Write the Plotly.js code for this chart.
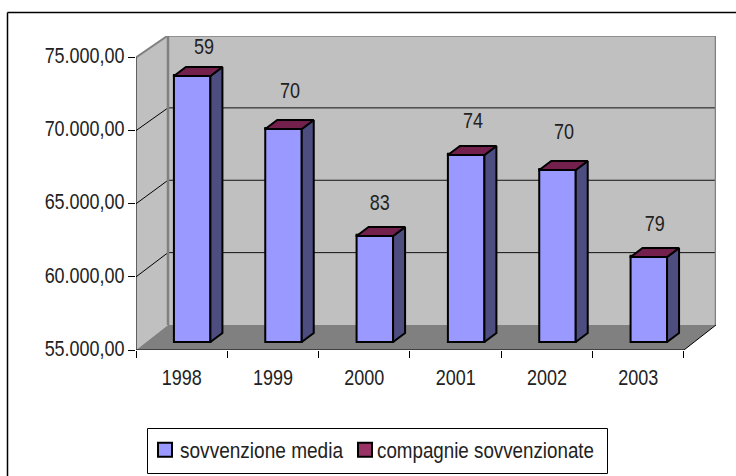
<!DOCTYPE html>
<html>
<head>
<meta charset="utf-8">
<script src="https://cdn.plot.ly/plotly-2.35.2.min.js"></script>
<style>html,body{margin:0;padding:0;background:#fff;overflow:hidden}#chart{width:736px;height:476px}</style>
</head>
<body>
<div id="chart"></div>
<script>
const years = ['1998','1999','2000','2001','2002','2003'];
const sovvenzioneMedia = [73190, 69560, 62250, 67790, 66760, 60810];
const compagnie = [59, 70, 83, 74, 70, 79];
const labelHeights = [75650, 72640, 64980, 70590, 69770, 63540];
const labelShift = [0.244, 0.186, 0.17, 0.19, 0.186, 0.18];
const yTicks = [55000, 60000, 65000, 70000, 75000];
const yTickText = ['55.000,00','60.000,00','65.000,00','70.000,00','75.000,00'];

const FONT = '"Liberation Sans",Arial,sans-serif';
const yMin = 55000, yMax = 75000;
const pxX = 91.33, pxY = 0.014625;
const xLo = -0.5, xHi = years.length - 0.5;
const wallDX = 32 / pxX, wallDY = 25 / pxY, wallTopDY = 22 / pxY;
const barDX = 12 / pxX, barDY = 9 / pxY;
const shiftX = 10.5 / pxX, shiftY = 8 / pxY;
const barW = 36.5 / pxX;
const xs = years.map((_, i) => i);
const barX = xs.map(i => i + shiftX);
const barBase = xs.map(() => yMin + shiftY);
const barTop = sovvenzioneMedia.map(v => v + shiftY);

const sideX = [], sideY = [], topX = [], topY = [];
barX.forEach((c, i) => {
  const l = c - barW / 2, r = c + barW / 2, t = barTop[i], b = barBase[i];
  sideX.push(r, r + barDX, r + barDX, r, r, null);
  sideY.push(b, b + barDY, t + barDY, t, b, null);
  topX.push(l, l + barDX, r + barDX, r, l, null);
  topY.push(t, t + barDY, t + barDY, t, t, null);
});

const wallTop = yMax + wallTopDY;
const poly = pts => 'M' + pts.map(p => p[0] + ',' + p[1]).join('L') + 'Z';
const shape = (pts, fill, color, width) => ({type:'path', xref:'x', yref:'y', layer:'below',
  path: poly(pts), fillcolor: fill, line:{color: color, width: width}});
const seg = (x0, y0, x1, y1, color, width) => ({type:'line', xref:'x', yref:'y', layer:'below',
  x0, y0, x1, y1, line:{color, width}});

const shapes = [
  shape([[xLo,yMin],[xLo+wallDX,yMin+wallDY],[xLo+wallDX,wallTop],[xLo,yMax]], '#c0c0c0', 'rgba(0,0,0,0)', 0),
  shape([[xLo+wallDX,yMin+wallDY],[xHi+wallDX,yMin+wallDY],[xHi+wallDX,wallTop],[xLo+wallDX,wallTop]], '#c0c0c0', 'rgba(0,0,0,0)', 0)
];
yTicks.slice(1, -1).forEach(v => {
  const back = v + wallDY + (wallTopDY - wallDY) * (v - yMin) / (yMax - yMin);
  shapes.push(seg(xLo, v, xLo + wallDX, back, '#000', 1));
  shapes.push(seg(xLo + wallDX, back, xHi + wallDX, back, '#111', 1));
});
shapes.push(
  shape([[xLo,yMin],[xHi,yMin],[xHi+wallDX,yMin+wallDY],[xLo+wallDX,yMin+wallDY]], '#808080', 'rgba(0,0,0,0)', 0),
  seg(xLo, yMax, xLo+wallDX, wallTop, '#808080', 2),
  seg(xLo+wallDX, wallTop, xHi+wallDX, wallTop, '#808080', 2.5),
  seg(xHi+wallDX, wallTop, xHi+wallDX, yMin+wallDY, '#808080', 2.5),
  seg(xLo+wallDX, wallTop, xLo+wallDX, yMin+wallDY, '#808080', 2.5),
  seg(xLo, yMin, xLo, yMax, '#000', 1),
  seg(xLo, yMin, xHi, yMin, '#000', 1),
  seg(xHi, yMin, xHi+wallDX, yMin+wallDY, '#000', 1)
);

const plotL = 136, plotW = 580, plotT = 36, plotH = 314;
const pX = px => (px - plotL) / plotW;
const pY = py => 1 - (py - plotT) / plotH;
shapes.unshift({type:'line', xref:'paper', yref:'paper', layer:'below',
  x0:pX(7.5), x1:pX(7.5), y0:pY(12.5), y1:pY(476), line:{color:'#000', width:1.5}});
shapes.unshift({type:'line', xref:'paper', yref:'paper', layer:'below',
  x0:pX(7.5), x1:pX(736), y0:pY(12.5), y1:pY(12.5), line:{color:'#000', width:1.5}});
shapes.push({type:'rect', xref:'paper', yref:'paper',
  x0:pX(147.5), x1:pX(607.5), y0:pY(428.5), y1:pY(473.5), fillcolor:'#fff', line:{color:'#000', width:1}});

const traces = [
  {type:'bar', name:'sovvenzione media', x:barX, y:sovvenzioneMedia.map(v => v - yMin), base:barBase,
   width:barW, marker:{color:'#9999ff', line:{color:'#000', width:2}}, hoverinfo:'skip'},
  {type:'bar', name:'compagnie sovvenzionate', x:barX, y:compagnie, base:barTop,
   width:barW, marker:{color:'#993366', line:{color:'#000', width:2}}, hoverinfo:'skip'},
  {type:'scatter', mode:'lines', x:sideX, y:sideY, fill:'toself', fillcolor:'#4d4d80',
   line:{color:'#000', width:2}, showlegend:false, hoverinfo:'skip'},
  {type:'scatter', mode:'lines', x:topX, y:topY, fill:'toself', fillcolor:'#73204d',
   line:{color:'#000', width:2}, showlegend:false, hoverinfo:'skip'},
  {type:'scatter', mode:'text', x:xs.map((i) => i + labelShift[i]), y:labelHeights,
   text:compagnie.map(String), textposition:'middle center',
   textfont:{family:FONT, size:22, color:'#222'}, showlegend:false, hoverinfo:'skip'}
];

const layout = {
  width:736, height:476, autosize:false,
  margin:{l:plotL, r:736-plotL-plotW, t:plotT, b:476-plotT-plotH, pad:0, autoexpand:false},
  paper_bgcolor:'#fff', plot_bgcolor:'rgba(0,0,0,0)',
  barmode:'overlay', font:{family:FONT, size:22, color:'#222'},
  xaxis:{range:[xLo, xLo + plotW / pxX], tickmode:'array', tickvals:xs, ticktext:years,
    ticks:'outside', ticklen:8, tickcolor:'rgba(0,0,0,0)', showgrid:false, zeroline:false, showline:false,
    minor:{ticks:'outside', tick0:-0.5, dtick:1, ticklen:7, tickcolor:'#000', tickwidth:1, showgrid:false},
    tickfont:{family:FONT, size:22, color:'#222'}},
  yaxis:{range:[yMin, yMin + plotH / pxY], tickmode:'array', tickvals:yTicks, ticktext:yTickText,
    ticks:'outside', ticklen:7, tickcolor:'#000', tickwidth:1, showgrid:false, zeroline:false, showline:false,
    ticklabelstandoff:-1, ticklabelshift:-2,
    tickfont:{family:FONT, size:22, color:'#222'}},
  shapes:shapes,
  legend:{orientation:'h', x:pX(145), xanchor:'left', y:pY(450), yanchor:'middle', entrywidth:155, entrywidthmode:'pixels',
    bgcolor:'rgba(0,0,0,0)', borderwidth:0, font:{family:FONT, size:22, color:'#222'}, traceorder:'normal'}
};

Plotly.newPlot('chart', traces, layout, {displayModeBar:false, staticPlot:true}).then(gd => {
  // Arial Narrow is not installed: condense the installed sans to the same proportions
  const fit = (el, len) => { el.setAttribute('textLength', len); el.setAttribute('lengthAdjust', 'spacingAndGlyphs'); };
  gd.querySelectorAll('.xtick text, .ytick text, .textpoint text').forEach(t => fit(t, t.getComputedTextLength() * 0.817));
  const legendWidths = [163, 217], legendTextX = [35, 32];
  gd.querySelectorAll('.legend .legendtext').forEach((t, i) => { fit(t, legendWidths[i]); t.setAttribute('x', legendTextX[i]); });
  gd.querySelectorAll('.legend .legendpoints path').forEach(p => p.setAttribute('d', 'M7,7H-7V-7H7Z'));
  gd.querySelectorAll('.legend .scrollbox').forEach(s => s.removeAttribute('clip-path'));
});
</script>
</body>
</html>
